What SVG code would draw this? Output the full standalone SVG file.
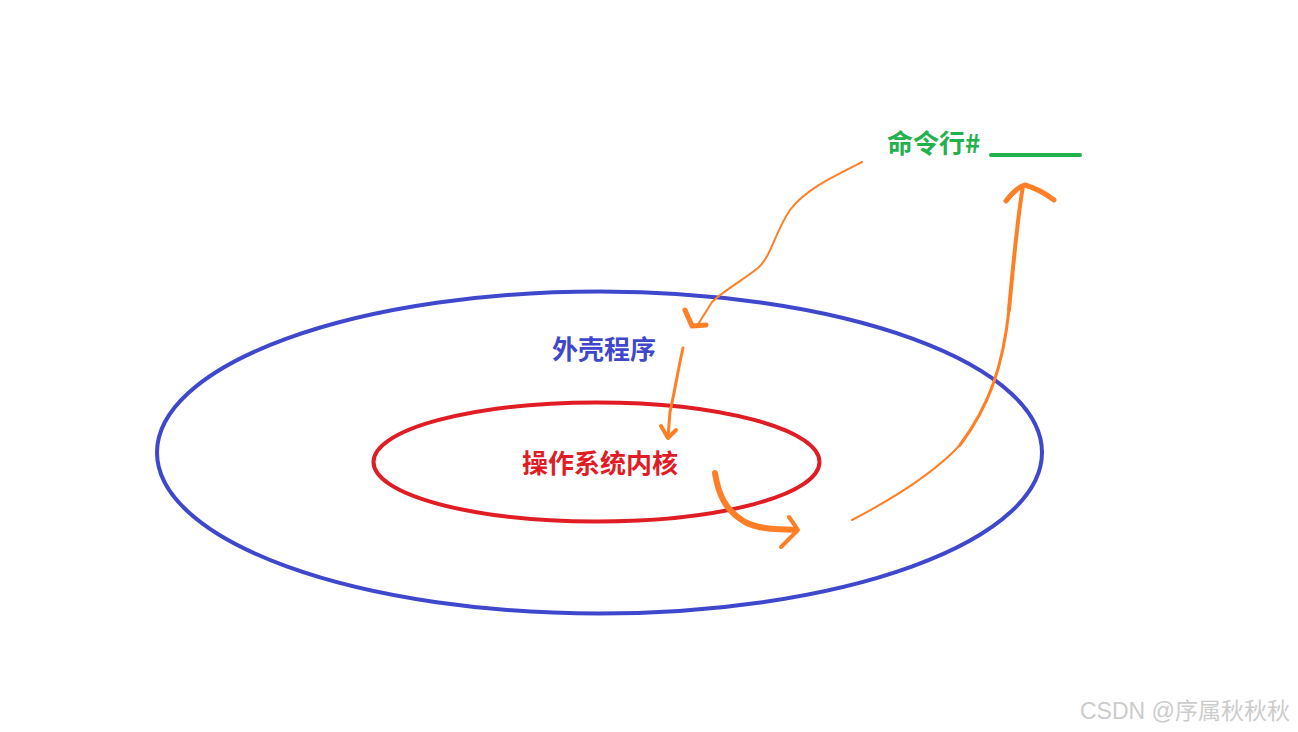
<svg xmlns="http://www.w3.org/2000/svg" width="1298" height="732" viewBox="0 0 1298 732">
<style>
.cjk{font-family:"Noto Sans CJK SC","Liberation Serif",serif;font-weight:bold;font-size:26px}
.arr{fill:none;stroke:#ff7f27;stroke-linecap:round;stroke-linejoin:round}
</style>
<rect width="1298" height="732" fill="#ffffff"/>
<g id="shell">
<ellipse cx="599.5" cy="452.5" rx="442.5" ry="161" fill="none" stroke="#3f48cc" stroke-width="4"/>
<text class="cjk" x="552" y="359" fill="#3f48cc">外壳程序</text>
</g>
<g id="kernel">
<ellipse cx="596.5" cy="462" rx="223" ry="59.5" fill="none" stroke="#e01c24" stroke-width="4"/>
<text class="cjk" x="522" y="473" fill="#e01c24">操作系统内核</text>
</g>
<g id="cmdline">
<text class="cjk" x="887" y="153" fill="#22b14c">命令行#</text>
<line x1="991" y1="155" x2="1080" y2="155" stroke="#22b14c" stroke-width="4" stroke-linecap="round"/>
</g>
<g id="connectors">
<path class="arr" stroke-width="2" d="M862,162 C830,178 805,190 790,210 C775,232 772,255 758,268 C740,282 722,292 712,302 L697,326"/>
<path class="arr" stroke-width="5" d="M685,310 L692,326 L706,325"/>
<path class="arr" stroke-width="3" d="M683,348 C678,370 674,395 670,412 L668,437"/>
<path class="arr" stroke-width="4" d="M661,426 L668,438 L676,430"/>
<path class="arr" stroke-width="6" d="M715,473 C718,492 724,510 745,522 C760,530 780,529 796,530"/>
<path class="arr" stroke-width="4" d="M789,517 L798,530 L781,547"/>
<path class="arr" stroke-width="2" d="M852,520 C900,495 935,472 960,445"/>
<path class="arr" stroke-width="3" d="M960,445 C990,405 1003,365 1009,310"/>
<path class="arr" stroke-width="4" d="M1009,310 C1014,255 1018,215 1023,186"/>
<path class="arr" stroke-width="5" d="M1006,201 C1012,193 1018,187 1025,185 C1035,188 1045,193 1054,200"/>
</g>
<text x="1080" y="719" font-family="'Liberation Sans','Noto Sans CJK SC',sans-serif" font-size="23" fill="#cccccc">CSDN @序属秋秋秋</text>
</svg>
